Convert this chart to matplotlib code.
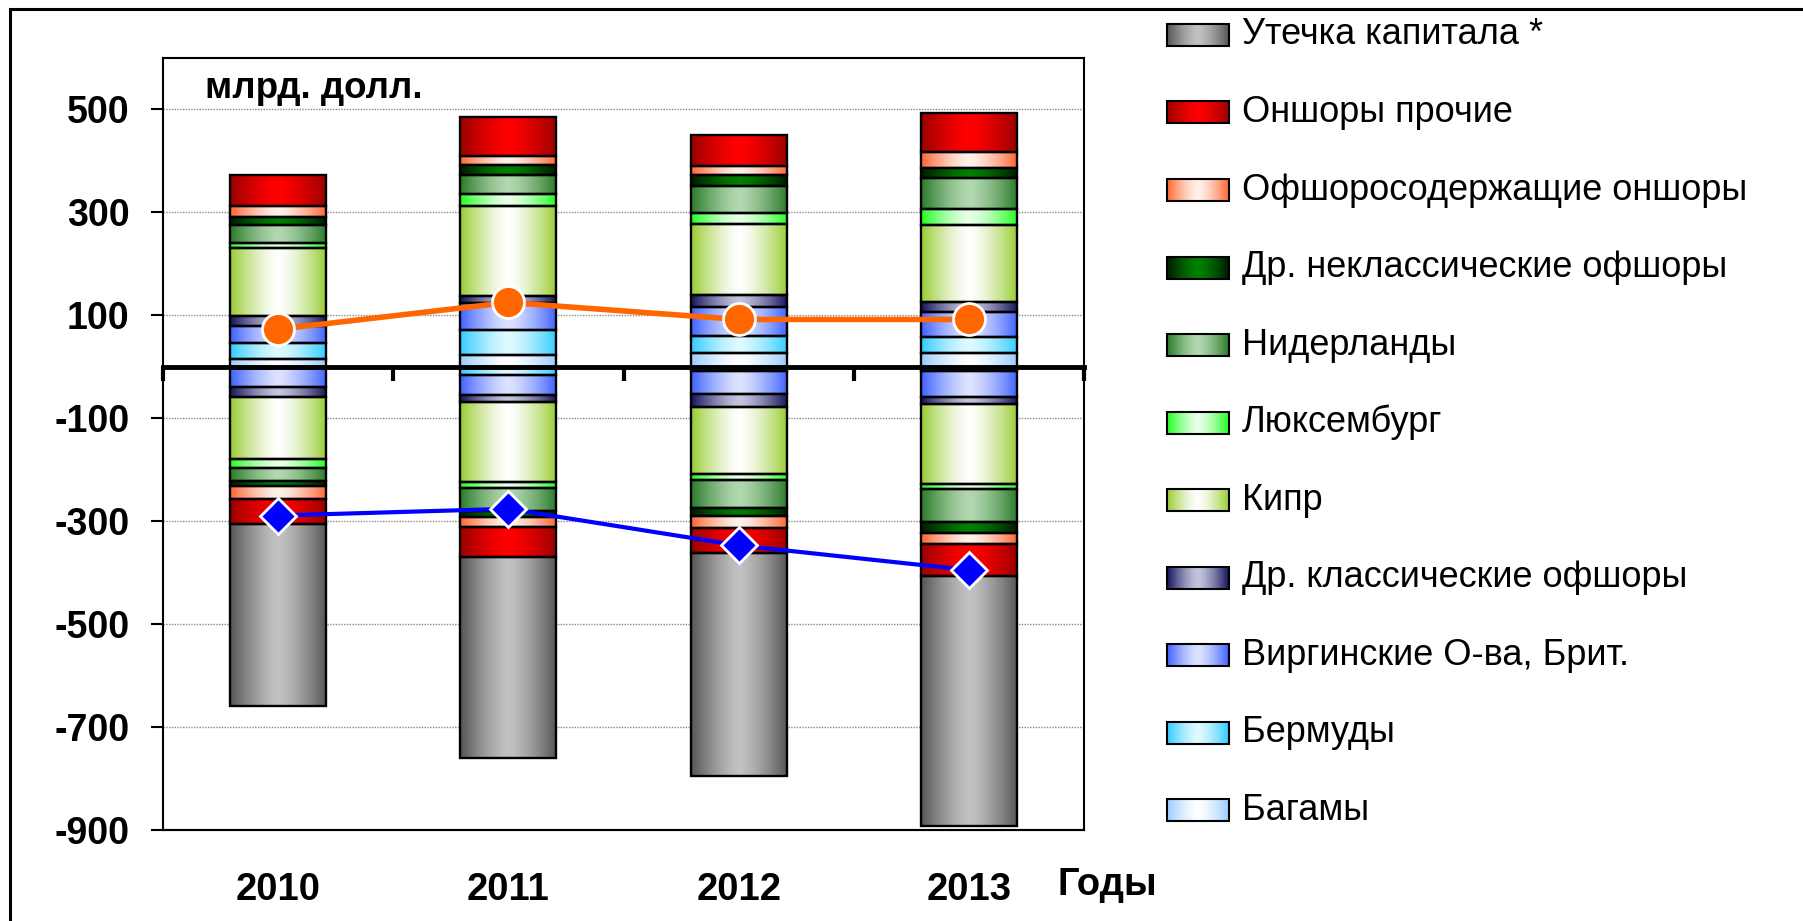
import numpy as np
import matplotlib
matplotlib.use("Agg")
import matplotlib.pyplot as plt
from matplotlib.patches import Rectangle
from matplotlib.colors import to_rgb

plt.rcParams['font.family'] = ['Liberation Sans', 'DejaVu Sans']

years = ['2010', '2011', '2012', '2013']

# series in stacking order, from the zero line outwards
names = ['Багамы', 'Бермуды', 'Виргинские О-ва, Брит.', 'Др. классические офшоры',
         'Кипр', 'Люксембург', 'Нидерланды', 'Др. неклассические офшоры',
         'Офшоросодержащие оншоры', 'Оншоры прочие', 'Утечка капитала *']

# inflows (positive part of the bars), bn USD
bahamas_in = [16, 22, 27, 27]
bermuda_in = [30, 50, 33, 30]
bvi_in = [33, 51, 57, 49]
classic_in = [19, 14, 23, 19]
cyprus_in = [132, 176, 137, 151]
lux_in = [11, 22, 21, 30]
neth_in = [34, 37, 53, 60]
nonclassic_in = [17, 21, 21, 20]
offcont_in = [20, 17, 18, 32]
onshore_in = [61, 76, 60, 76]
flight_in = [0, 0, 0, 0]

# outflows (negative part of the bars)
bahamas_out = [-1, -3, -3, -3]
bermuda_out = [-2, -13, -5, -5]
bvi_out = [-37, -38, -44, -50]
classic_out = [-18, -15, -27, -15]
cyprus_out = [-122, -155, -130, -155]
lux_out = [-16, -11, -10, -9]
neth_out = [-25, -45, -55, -65]
nonclassic_out = [-11, -12, -16, -21]
offcont_out = [-24, -19, -23, -22]
onshore_out = [-49, -59, -49, -62]
flight_out = [-355, -391, -434, -486]

# line series
line_in = [73, 125, 92, 92]
line_out = [-289, -276, -347, -395]

yticks = [500, 300, 100, -100, -300, -500, -700, -900]

# (edge colour, centre colour) of the horizontal gradients
grads = [('#99ccff', '#ffffff'), ('#33ccff', '#e0faff'), ('#3f62ff', '#dde3ff'),
         ('#14145a', '#c4c4de'), ('#99cc33', '#ffffff'), ('#22ff22', '#eaffea'),
         ('#2a7a2a', '#b2d8b0'), ('#001800', '#008000'), ('#ff6633', '#fff2ea'),
         ('#990000', '#ff0000'), ('#555555', '#c2c2c2')]

pos = [bahamas_in, bermuda_in, bvi_in, classic_in, cyprus_in, lux_in, neth_in,
       nonclassic_in, offcont_in, onshore_in, flight_in]
neg = [bahamas_out, bermuda_out, bvi_out, classic_out, cyprus_out, lux_out, neth_out,
       nonclassic_out, offcont_out, onshore_out, flight_out]


def grad_img(edge, centre, n=121, p=1.4):
    t = np.abs(np.linspace(-1, 1, n)) ** p
    e = np.array(to_rgb(edge))
    c = np.array(to_rgb(centre))
    row = c[None, :] * (1 - t[:, None]) + e[None, :] * t[:, None]
    return row[None, :, :]


def fill_grad(axis, patch, edge, centre):
    x0, y0 = patch.get_x(), patch.get_y()
    w, h = patch.get_width(), patch.get_height()
    im = axis.imshow(grad_img(edge, centre), extent=[x0, x0 + w, min(y0, y0 + h), max(y0, y0 + h)],
                     aspect='auto', interpolation='bilinear', zorder=2.5)
    im.set_clip_path(patch)


fig = plt.figure(figsize=(18.03, 9.21), dpi=100)
ax = fig.add_axes([163 / 1803, 1 - 830 / 921, (1084 - 163) / 1803, (830 - 58) / 921])

x = np.arange(len(years))
width = 0.417
for data in (pos, neg):
    bottom = np.zeros(len(years))
    for k, vals in enumerate(data):
        vals = np.array(vals, dtype=float)
        bars = ax.bar(x, vals, width, bottom=bottom, facecolor='none', edgecolor='black',
                      linewidth=1.7, zorder=3)
        for b, v in zip(bars, vals):
            if v == 0:
                b.set_visible(False)
                continue
            fill_grad(ax, b, *grads[k])
        bottom += vals

ax.plot(x, line_in, color='#ff6600', lw=4, marker='o', ms=23, mfc='#ff6600',
        mec='white', mew=2, zorder=6)
ax.plot(x, line_out, color='#0000ff', lw=3, marker='D', ms=18, mfc='#0000ff',
        mec='white', mew=2, zorder=6)

ax.set_xlim(-0.5, 3.5)
ax.set_ylim(-900, 600)
ax.set_yticks(yticks)
ax.set_yticklabels([str(v) for v in yticks], fontsize=27, fontweight='bold')
ax.tick_params(axis='y', direction='out', length=9, width=1.5, pad=15)
ax.yaxis.grid(True, linestyle=(0, (1, 1)), color='#888888', lw=1)
ax.set_axisbelow(True)

for s in ('left', 'right', 'top'):
    ax.spines[s].set_linewidth(1.5)
ax.spines['bottom'].set_position(('data', 0))
ax.spines['bottom'].set_linewidth(3.5)
ax.spines['bottom'].set_zorder(5)
ax.set_xticks([-0.5, 0.5, 1.5, 2.5, 3.5])
ax.set_xticklabels([])
ax.tick_params(axis='x', direction='out', length=10, width=3)
ax.plot([0, 1], [0, 0], transform=ax.transAxes, color='black', lw=1.5, clip_on=False, zorder=5)

sec = ax.secondary_xaxis('bottom')
sec.set_xticks(x)
sec.set_xticklabels(years, fontsize=27.5, fontweight='bold')
sec.tick_params(length=0, pad=30)
sec.spines['bottom'].set_linewidth(1.5)

fig.text(205 / 1803, 1 - 88 / 921, 'млрд. долл.', fontsize=26.5, fontweight='bold', va='center')
fig.text(1058 / 1803, 1 - 885 / 921, 'Годы', fontsize=27.5, fontweight='bold', va='center')

# legend, drawn in pixel space on the right
lax = fig.add_axes([0, 0, 1, 1])
lax.set_xlim(0, 1803)
lax.set_ylim(921, 0)
lax.axis('off')
for i in range(len(names)):
    k = len(names) - 1 - i
    yc = 35 + 77.5 * i
    r = Rectangle((1167, yc - 11), 62, 22, facecolor='none', edgecolor='black', lw=1.5, zorder=3)
    lax.add_patch(r)
    fill_grad(lax, r, *grads[k])
    lax.text(1242, yc, names[k], fontsize=26, va='center', ha='left')
lax.set_xlim(0, 1803)
lax.set_ylim(921, 0)

fig.patches.append(Rectangle((10 / 1803, -0.1), 1.2, 1.1 - 9 / 921, fill=False, lw=2.2,
                             edgecolor='black', transform=fig.transFigure, figure=fig))

fig.savefig('out.png', dpi=100)
